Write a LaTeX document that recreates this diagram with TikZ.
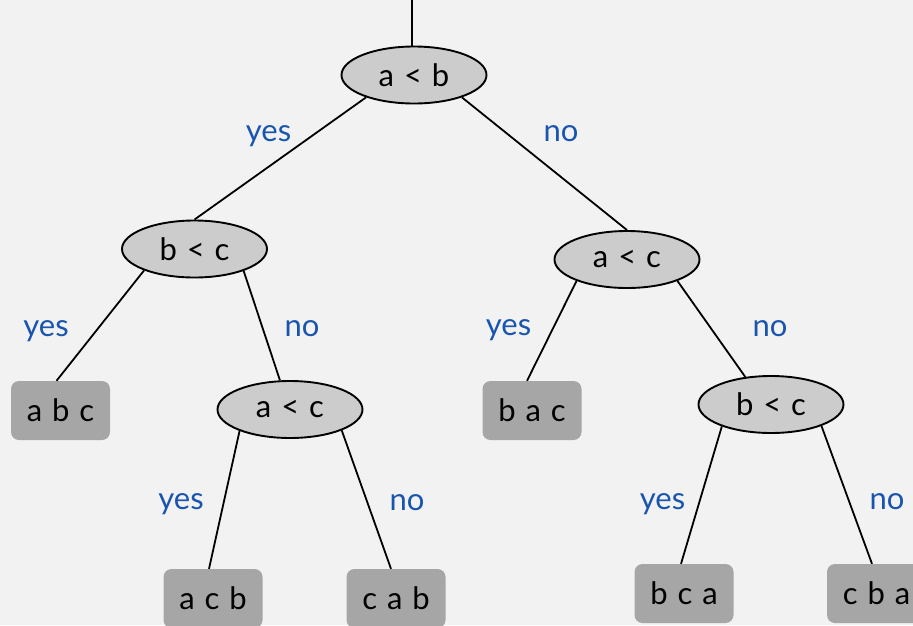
\documentclass[tikz,border=0pt]{standalone}
\usepackage{fontspec}
\setmainfont{Lato}
\newfontfamily\boxfont{Lato}[WordSpace=1.25]
\usetikzlibrary{shapes.geometric}
\definecolor{bg}{HTML}{F2F2F2}
\definecolor{testfill}{HTML}{CCCCCC}
\definecolor{leaffill}{HTML}{A6A6A6}
\definecolor{lblblue}{RGB}{25,85,175}
\tikzset{
  test/.style={ellipse, draw=black, line width=1.9pt, fill=testfill, minimum width=145pt, minimum height=57pt, inner sep=0pt, font=\boxfont\fontsize{31}{35}\selectfont},
  leaf/.style={rectangle, rounded corners=8pt, fill=leaffill, minimum width=99pt, minimum height=59pt, inner sep=0pt, font=\boxfont\fontsize{31}{35}\selectfont},
  edge/.style={line width=1.8pt, black},
  lbl/.style={anchor=base, text=lblblue, font=\fontsize{31}{35}\selectfont, inner sep=0pt}
}
\begin{document}
\begin{tikzpicture}[x=1pt, y=-1pt]
\fill[bg] (0,0) rectangle (913,625);
\useasboundingbox (0,0) rectangle (913,625);
\begin{scope}
\clip (0,0) rectangle (913,625);
\node[test] (root) at (414,75) {a < b};
\node[test] (bcL) at (194.5,249) {b < c};
\node[test] (acR) at (627,259.5) {a < c};
\node[test] (acM) at (290,409.5) {a < c};
\node[test] (bcR) at (771,404.5) {b < c};
\node[leaf] (abc) at (60.5,410.5) {a b c};
\node[leaf] (bac) at (532,410.5) {b a c};
\node[leaf] (acb) at (213,598.5) {a c b};
\node[leaf] (cab) at (396,598.5) {c a b};
\node[leaf] (bca) at (684,593.5) {b c a};
\node[leaf] (cba) at (876.5,593.5) {c b a};
\coordinate (top) at (412,0);
\draw[line width=2.4pt] (top) -- (top |- root.north);
\draw[edge] (root.205) -- (bcL.north);
\draw[edge] (root.335) -- (acR.north);
\draw[edge] (bcL.203) -- ([xshift=-4pt]abc.north);
\draw[edge] (bcL.336) -- (acM.109);
\draw[edge] (acR.203) -- ([xshift=-5pt]bac.north);
\draw[edge] (acR.337) -- (bcR.133);
\draw[edge] (acM.203) -- ([xshift=-4pt]acb.north);
\draw[edge] (acM.338) -- ([xshift=-5pt]cab.north);
\draw[edge] (bcR.204) -- ([xshift=-3pt]bca.north);
\draw[edge] (bcR.337) -- ([xshift=-4.5pt]cba.north);
\node[lbl] (l1) at (268.5,141) {yes};
\node[lbl] (l2) at (561,141) {no};
\node[lbl] (l3) at (46,336) {yes};
\node[lbl] (l4) at (302,336) {no};
\node[lbl] (l5) at (508.5,335) {yes};
\node[lbl] (l6) at (770,336) {no};
\node[lbl] (l7) at (181,509) {yes};
\node[lbl] (l8) at (407,510) {no};
\node[lbl] (l9) at (662.5,509) {yes};
\node[lbl] (l10) at (887,509) {no};
\end{scope}
\end{tikzpicture}
\end{document}
